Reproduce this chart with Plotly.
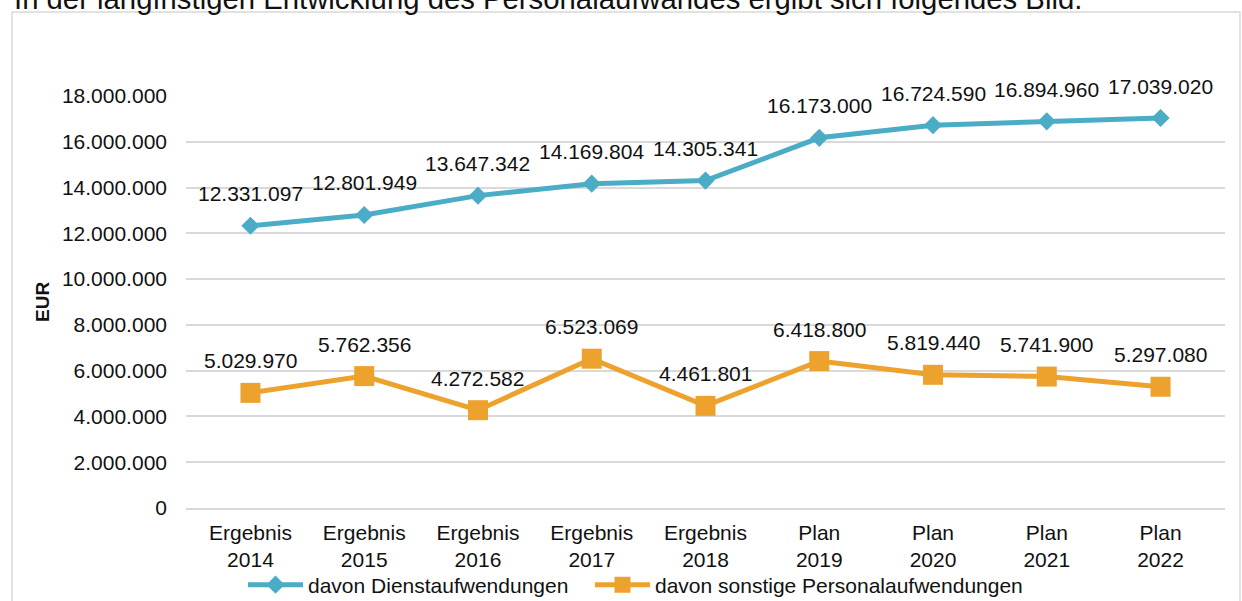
import plotly.graph_objects as go

categories = ["Ergebnis<br>2014", "Ergebnis<br>2015", "Ergebnis<br>2016", "Ergebnis<br>2017",
              "Ergebnis<br>2018", "Plan<br>2019", "Plan<br>2020", "Plan<br>2021", "Plan<br>2022"]
dienst = [12331097, 12801949, 13647342, 14169804, 14305341, 16173000, 16724590, 16894960, 17039020]
sonstige = [5029970, 5762356, 4272582, 6523069, 4461801, 6418800, 5819440, 5741900, 5297080]
y_ticks = list(range(0, 18000001, 2000000))

BLUE = "#4BACC6"
ORANGE = "#EDA22E"
FONT = "Liberation Sans, Arial, sans-serif"
W, H = 1242, 601
L, R, T, B = 186, 17, 96, 93
pw, ph = W - L - R, H - T - B


def px_x(p):
    return (p - L) / pw


def px_y(p):
    return (H - B - p) / ph


def de(n):
    return f"{n:,}".replace(",", ".")


fig = go.Figure()
fig.add_trace(go.Scatter(
    x=categories, y=dienst, name="davon Dienstaufwendungen", mode="lines+markers",
    line=dict(color=BLUE, width=5), marker=dict(symbol="diamond", size=14, color=BLUE),
    cliponaxis=False, legend="legend"))
fig.add_trace(go.Scatter(
    x=categories, y=sonstige, name="davon sonstige Personalaufwendungen", mode="lines+markers",
    line=dict(color=ORANGE, width=5), marker=dict(symbol="square", size=20, color=ORANGE),
    cliponaxis=False, legend="legend2"))

annotations = []
for c, v in zip(categories, dienst):
    annotations.append(dict(x=c, y=v, text=de(v), showarrow=False, yshift=32,
                            font=dict(size=21, color="#111111", family=FONT)))
for c, v in zip(categories, sonstige):
    annotations.append(dict(x=c, y=v, text=de(v), showarrow=False, yshift=32,
                            font=dict(size=21, color="#111111", family=FONT)))

annotations.append(dict(xref="paper", yref="paper", x=px_x(42), y=px_y(302), text="<b>EUR</b>",
                        textangle=-90, showarrow=False, xanchor="center", yanchor="middle",
                        font=dict(size=19, color="#111111", family=FONT)))
annotations.append(dict(xref="paper", yref="paper", x=px_x(12), y=px_y(-1.5),
                        text="In der langfristigen Entwicklung des Personalaufwandes ergibt sich folgendes Bild.",
                        showarrow=False, xanchor="left", yanchor="middle",
                        font=dict(size=29.3, color="#111111", family=FONT)))

shapes = [dict(type="rect", xref="paper", yref="paper",
               x0=px_x(12), x1=px_x(1240), y0=px_y(640), y1=px_y(12),
               line=dict(color="#D9D9D9", width=1.5), fillcolor="rgba(0,0,0,0)", layer="below")]

legend_common = dict(orientation="h", xref="paper", yref="paper", y=px_y(585),
                     xanchor="left", yanchor="middle", font=dict(size=21, color="#111111"),
                     itemwidth=55, bgcolor="rgba(0,0,0,0)")

fig.update_layout(
    width=W, height=H,
    margin=dict(l=L, r=R, t=T, b=B, autoexpand=False),
    paper_bgcolor="white", plot_bgcolor="white",
    separators=",.",
    font=dict(family=FONT, size=21, color="#111111"),
    showlegend=True,
    legend=dict(x=px_x(243), **legend_common),
    legend2=dict(x=px_x(590), **legend_common),
    annotations=annotations,
    shapes=shapes,
    xaxis=dict(type="category", showgrid=False, showline=True, linecolor="#D9D9D9", linewidth=1.5,
               ticks="", ticklabelstandoff=5, tickfont=dict(size=21, color="#111111"),
               automargin=False, fixedrange=True),
    yaxis=dict(range=[0, 18000000], tickvals=y_ticks, tickformat=",d", showgrid=True,
               gridcolor="#D9D9D9", gridwidth=1.5, zeroline=False, showline=False, ticks="",
               ticklabelstandoff=18, tickfont=dict(size=21, color="#111111"), automargin=False,
               fixedrange=True),
)

fig.write_html("out.html", config={"displayModeBar": False},
               post_script="document.body.style.margin='0';document.body.style.overflow='hidden';")
